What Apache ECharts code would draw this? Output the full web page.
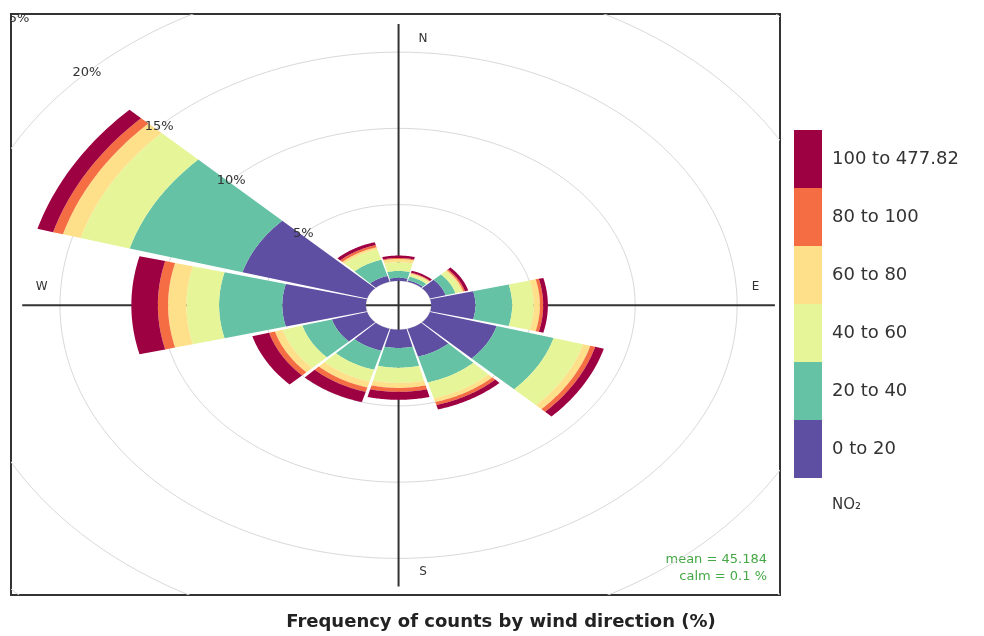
<!DOCTYPE html>
<html>
<head>
<meta charset="utf-8">
<title>Pollution rose</title>
<script src="https://cdn.jsdelivr.net/npm/echarts@6/dist/echarts.min.js"></script>
<style>
  html, body { margin: 0; padding: 0; background: #fff; }
  #chart { width: 984px; height: 636px; }
</style>
</head>
<body>
<div id="chart"></div>
<script>
// wind direction sectors (degrees from north), 30 degree bins
var directions = [0, 30, 60, 90, 120, 150, 180, 210, 240, 270, 300, 330];

// frequency of counts (%) per sector, one array per NO2 bin
var no2_0_20    = [0.20, 0.10, 0.80, 2.17, 3.40, 1.90, 1.20, 1.50, 1.80, 4.10, 6.35, 0.40];
var no2_20_40   = [0.45, 0.25, 0.50, 1.80, 2.90, 1.76, 1.30, 1.30, 1.50, 3.10, 5.75, 1.10];
var no2_40_60   = [0.57, 0.15, 0.30, 1.06, 1.50, 1.07, 0.99, 0.80, 1.00, 1.60, 2.50, 0.70];
var no2_60_80   = [0.22, 0.08, 0.10, 0.30, 0.37, 0.27, 0.33, 0.40, 0.40, 0.90, 0.90, 0.15];
var no2_80_100  = [0.06, 0.04, 0.08, 0.16, 0.25, 0.20, 0.26, 0.30, 0.30, 0.50, 0.50, 0.15];
var no2_100_478 = [0.16, 0.13, 0.17, 0.23, 0.44, 0.30, 0.52, 0.70, 0.85, 1.30, 0.80, 0.20];

var binNames = ['0 to 20', '20 to 40', '40 to 60', '60 to 80', '80 to 100', '100 to 477.82'];
var binColors = ['#5E4FA2', '#66C2A5', '#E6F598', '#FEE08B', '#F46D43', '#9E0142'];

var ringPercents = [0, 5, 10, 15, 20, 25];
var compass = ['N', 'E', 'S', 'W'];
var meanText = 'mean = 45.184';
var calmText = 'calm = 0.1 %';

// layout of the rose (in % units of the radial scale)
var OFFSET = 1.6;      // hole in the middle
var SECTOR = 30;
var GAP = 0.8;         // degrees trimmed from each side of a wedge
var AXIS_LEN = 18.45;
var LABEL_R = 17.5;
var LABEL_SHIFT = 1.2;
var RING_LABEL_ANGLE = 315;

var bins = [no2_0_20, no2_20_40, no2_40_60, no2_60_80, no2_80_100, no2_100_478];

function toXY(r, deg) {
  var a = deg * Math.PI / 180;
  return [r * Math.sin(a), r * Math.cos(a)];
}

var chart = echarts.init(document.getElementById('chart'));

var series = [];

// grid rings
series.push({
  type: 'custom',
  name: 'rings',
  z: 1,
  clip: true,
  silent: true,
  data: ringPercents.map(function (p) { return [p]; }),
  renderItem: function (params, api) {
    var r = OFFSET + api.value(0);
    var pts = [];
    for (var i = 0; i <= 180; i++) {
      pts.push(api.coord(toXY(r, i * 2)));
    }
    return {
      type: 'polyline',
      shape: { points: pts },
      style: { stroke: '#d9d9d9', lineWidth: 1, fill: null }
    };
  }
});

// cross of axis lines
series.push({
  type: 'custom',
  name: 'axes',
  z: 2,
  silent: true,
  data: [[0], [90]],
  renderItem: function (params, api) {
    var d = api.value(0);
    var a = api.coord(toXY(AXIS_LEN, d));
    var b = api.coord(toXY(AXIS_LEN, d + 180));
    return {
      type: 'line',
      shape: { x1: a[0], y1: a[1], x2: b[0], y2: b[1] },
      style: { stroke: '#333', lineWidth: 2 }
    };
  }
});

// stacked wedges, one series per NO2 bin
var cum = directions.map(function () { return 0; });
bins.forEach(function (vals, b) {
  var data = directions.map(function (d, i) {
    var inner = cum[i];
    cum[i] += vals[i];
    return [d, inner, cum[i]];
  });
  series.push({
    type: 'custom',
    name: binNames[b],
    z: 3,
    itemStyle: { color: binColors[b] },
    data: data,
    renderItem: function (params, api) {
      var d = api.value(0);
      var r0 = OFFSET + api.value(1);
      var r1 = OFFSET + api.value(2);
      var a0 = d - SECTOR / 2 + GAP, a1 = d + SECTOR / 2 - GAP;
      var n = 40, pts = [], i;
      for (i = 0; i <= n; i++) pts.push(api.coord(toXY(r1, a0 + (a1 - a0) * i / n)));
      for (i = n; i >= 0; i--) pts.push(api.coord(toXY(r0, a0 + (a1 - a0) * i / n)));
      return {
        type: 'polygon',
        shape: { points: pts },
        style: { fill: api.visual('color'), stroke: null }
      };
    }
  });
});

// ring labels, drawn over the wedges
series.push({
  type: 'custom',
  name: 'ringLabels',
  z: 4,
  clip: true,
  silent: true,
  data: ringPercents.filter(function (p) { return p > 0; }).map(function (p) { return [p]; }),
  renderItem: function (params, api) {
    var p = api.value(0);
    var c = api.coord(toXY(OFFSET + p, RING_LABEL_ANGLE));
    return {
      type: 'text',
      style: {
        x: c[0], y: c[1], text: p + '%',
        align: 'center', verticalAlign: 'middle',
        fontSize: 13, fontFamily: 'DejaVu Sans', fill: '#333'
      }
    };
  }
});

// compass labels
series.push({
  type: 'custom',
  name: 'compass',
  z: 4,
  silent: true,
  data: compass.map(function (c, i) { return [i * 90]; }),
  renderItem: function (params, api) {
    var d = api.value(0);
    var p = toXY(LABEL_R, d);
    // labels sit beside the axis line, on its right / upper side
    var off = (d === 0 || d === 180) ? [LABEL_SHIFT, 0] : [0, LABEL_SHIFT];
    var c = api.coord([p[0] + off[0], p[1] + off[1]]);
    return {
      type: 'text',
      style: {
        x: c[0], y: c[1], text: compass[params.dataIndex],
        align: 'center', verticalAlign: 'middle',
        fontSize: 12, fontFamily: 'DejaVu Sans', fill: '#333'
      }
    };
  }
});

chart.setOption({
  backgroundColor: '#fff',
  animation: false,
  title: {
    text: 'Frequency of counts by wind direction (%)',
    left: 501,
    top: 613,
    textAlign: 'center',
    padding: 0,
    textStyle: { fontSize: 18, fontWeight: 'bold', color: '#222', fontFamily: 'DejaVu Sans' }
  },
  grid: {
    left: 11, top: 14, right: 204, bottom: 41,
    show: true, borderColor: '#333', borderWidth: 2, backgroundColor: 'transparent'
  },
  xAxis: { type: 'value', min: -19, max: 18.7, show: false },
  yAxis: { type: 'value', min: -19.0, max: 19.1, show: false },
  legend: {
    orient: 'vertical',
    left: 794,
    top: 130,
    padding: 0,
    itemWidth: 28,
    itemHeight: 58,
    itemGap: 0,
    icon: 'rect',
    selectedMode: false,
    data: binNames.slice().reverse(),
    textStyle: { fontSize: 18, color: '#333', fontFamily: 'DejaVu Sans', padding: [3, 0, 0, 5] }
  },
  graphic: [
    {
      type: 'text', left: 832, top: 498,
      style: { text: 'NO\u2082', fontSize: 15, fontFamily: 'DejaVu Sans', fill: '#333' }
    },
    {
      type: 'text', right: 984 - 767, top: 553,
      style: { text: meanText, fontSize: 13, fontFamily: 'DejaVu Sans', fill: '#45a845', align: 'right' }
    },
    {
      type: 'text', right: 984 - 767, top: 570,
      style: { text: calmText, fontSize: 13, fontFamily: 'DejaVu Sans', fill: '#45a845', align: 'right' }
    }
  ],
  series: series
});
</script>
</body>
</html>
